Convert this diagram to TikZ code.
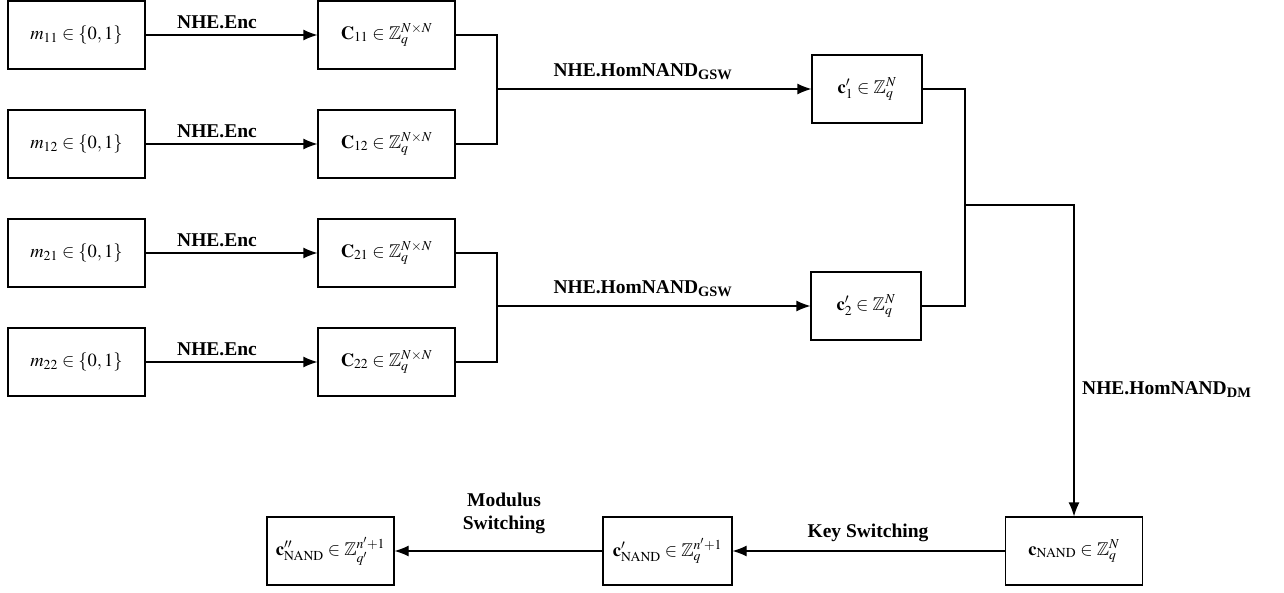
\documentclass[tikz,border=0pt]{standalone}
\usepackage{amssymb}
\usepackage{mathptmx}
\usepackage{fontspec}
\setmainfont{Liberation Serif}
\usetikzlibrary{arrows.meta}
\begin{document}
\begin{tikzpicture}[x=1pt,y=-1pt,
  box/.style={draw, line width=1.2pt, minimum height=68pt, inner sep=0pt, font=\fontsize{18.5}{21}\selectfont},
  lbl/.style={font=\fontsize{19.5}{23}\selectfont\bfseries, inner sep=0pt, align=center},
  conn/.style={line width=1.2pt},
  arr/.style={line width=1.2pt, -{Latex[length=14pt,width=11pt]}}]
\useasboundingbox (0,0) rectangle (1284,593);
% inputs
\node[box, minimum width=137pt] (m11) at (76.5,35) {$m_{11}\in\{0,1\}$};
\node[box, minimum width=137pt] (m12) at (76.5,144) {$m_{12}\in\{0,1\}$};
\node[box, minimum width=137pt] (m21) at (76.5,253) {$m_{21}\in\{0,1\}$};
\node[box, minimum width=137pt] (m22) at (76.5,362) {$m_{22}\in\{0,1\}$};
% ciphertexts
\node[box, minimum width=137pt] (C11) at (386.5,35) {$\mathbf{C}_{11}\in\mathbb{Z}_q^{N\times N}$};
\node[box, minimum width=137pt] (C12) at (386.5,144) {$\mathbf{C}_{12}\in\mathbb{Z}_q^{N\times N}$};
\node[box, minimum width=137pt] (C21) at (386.5,253) {$\mathbf{C}_{21}\in\mathbb{Z}_q^{N\times N}$};
\node[box, minimum width=137pt] (C22) at (386.5,362) {$\mathbf{C}_{22}\in\mathbb{Z}_q^{N\times N}$};
% intermediate
\node[box, minimum width=110pt] (c1) at (867,89) {$\mathbf{c}_1'\in\mathbb{Z}_q^{N}$};
\node[box, minimum width=110pt] (c2) at (866,306) {$\mathbf{c}_2'\in\mathbb{Z}_q^{N}$};
% bottom row
\node[box, minimum width=137pt] (cn) at (1074,551) {$\mathbf{c}_{\mathrm{NAND}}\in\mathbb{Z}_q^{N}$};
\node[box, minimum width=129pt] (cnp) at (667.5,551) {$\mathbf{c}_{\mathrm{NAND}}'\in\mathbb{Z}_q^{n'+1}$};
\node[box, minimum width=127pt] (cnpp) at (330.5,551) {$\mathbf{c}_{\mathrm{NAND}}''\in\mathbb{Z}_{q'}^{n'+1}$};
% encodings
\foreach \i in {11,12,21,22} \draw[arr] (m\i) -- (C\i);
\node[lbl] (e1) at (217,22) {NHE.Enc};
\node[lbl] (e2) at (217,131) {NHE.Enc};
\node[lbl] (e3) at (217,240) {NHE.Enc};
\node[lbl] (e4) at (217,349) {NHE.Enc};
% first join
\coordinate (j1) at (497,89);
\coordinate (j2) at (497,306);
\draw[conn] (C11.east) -| (j1) |- (C12.east);
\draw[arr] (j1) -- (c1.west);
\draw[conn] (C21.east) -| (j2) |- (C22.east);
\draw[arr] (j2) -- (c2.west);
\node[lbl] (h1) at (643,72) {NHE.HomNAND\textsubscript{GSW}};
\node[lbl] (h2) at (643,289) {NHE.HomNAND\textsubscript{GSW}};
% second join
\coordinate (j3) at (965,205);
\draw[conn] (c1.east) -| (j3) |- (c2.east);
\draw[arr] (j3) -| (cn.north);
\node[lbl, anchor=west] (h3) at (1082,390) {NHE.HomNAND\textsubscript{DM}};
% bottom
\draw[arr] (cn.west) -- (cnp.east);
\node[lbl] (ks) at (868,533) {Key Switching};
\draw[arr] (cnp.west) -- (cnpp.east);
\node[lbl] (ms) at (504,513) {Modulus\\Switching};
\end{tikzpicture}
\end{document}
